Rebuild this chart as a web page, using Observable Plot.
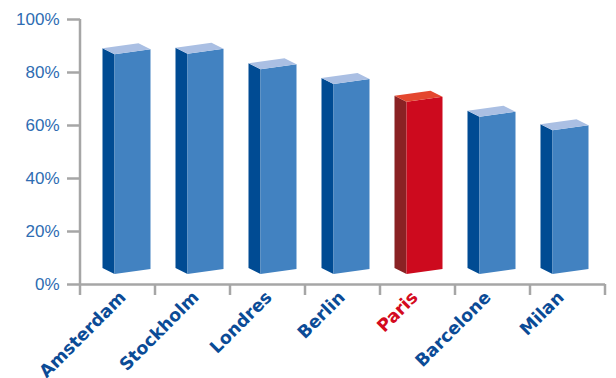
<!DOCTYPE html>
<html><head><meta charset="utf-8">
<script src="https://cdn.jsdelivr.net/npm/d3@7"></script>
<script src="https://cdn.jsdelivr.net/npm/@observablehq/plot@0.6"></script>
<style>body{margin:0;background:#fff}</style>
</head><body><div id="chart"></div>
<script>
const cities = ["Amsterdam", "Stockholm", "Londres", "Berlin", "Paris", "Barcelone", "Milan"];
const values = [88.6, 88.8, 82.9, 77.4, 70.7, 65.0, 59.9];
const highlight = "Paris";
const yTicks = [0, 20, 40, 60, 80, 100];

const data = cities.map((city, i) => ({city, value: values[i]}));

const palette = {
  normal: {front: "#4282c1", side: "#004b93", top: "#aabfe3", label: "#0b4b96"},
  highlight: {front: "#cd0a1e", side: "#8a2224", top: "#e4472f", label: "#d40a20"}
};
const axisGray = "#a6a6a6";
const tickBlue = "#2e6cb2";

function bars3d(index, scales, vals, dims) {
  const x = scales.x, y = scales.y;
  const g = d3.create("svg:g");
  const bw = x.bandwidth();
  const y0 = y(0);
  for (const d of data) {
    const cx = x(d.city) + bw / 2;
    const xl = cx - 24, xs = xl + 12, xr = xl + 48;
    const yt = y(d.value);
    const c = d.city === highlight ? palette.highlight : palette.normal;
    const poly = (pts, fill) => g.append("polygon")
      .attr("points", pts.map(p => p.join(",")).join(" "))
      .attr("fill", fill);
    poly([[xl, yt - 1], [xs, yt + 5], [xs, y0 - 10], [xl, y0 - 16]], c.side);
    poly([[xs, yt + 5], [xr, yt], [xr, y0 - 15], [xs, y0 - 10]], c.front);
    poly([[xl, yt - 1], [xs, yt + 5], [xr, yt], [xl + 36, yt - 6]], c.top);
  }
  return g.node();
}

function axisFrame(index, scales, vals, dims) {
  const {marginLeft, marginRight, width} = dims;
  const y = scales.y;
  const y0 = y(0);
  const g = d3.create("svg:g").attr("stroke", axisGray).attr("stroke-width", 2.5);
  g.append("line").attr("x1", marginLeft).attr("x2", marginLeft)
    .attr("y1", y(d3.max(yTicks))).attr("y2", y0 + 11);
  const n = cities.length, step = (width - marginLeft - marginRight) / n;
  for (let k = 1; k <= n; k++) {
    const xx = marginLeft + k * step;
    g.append("line").attr("x1", xx).attr("x2", xx).attr("y1", y0).attr("y2", y0 + 11);
  }
  return g.node();
}

const chart = Plot.plot({
  width: 616,
  height: 378,
  marginLeft: 80,
  marginRight: 11,
  marginTop: 19,
  marginBottom: 94,
  x: {type: "band", domain: cities, range: [89.33, 602.67], padding: 0, axis: null},
  y: {domain: [0, 100]},
  marks: [
    Plot.axisY(yTicks, {
      tickSize: 13, tickPadding: 8, stroke: axisGray, strokeWidth: 2.5,
      fill: tickBlue, fontSize: 17, fontFamily: "Liberation Sans",
      tickFormat: d => d + "%", label: null
    }),
    Plot.ruleY([0], {stroke: axisGray, strokeWidth: 2.5}),
    axisFrame,
    bars3d,
    Plot.text(data, {
      x: "city", y: () => 0, text: "city", rotate: -45, textAnchor: "end",
      dx: -4, dy: 10,
      fill: d => d.city === highlight ? palette.highlight.label : palette.normal.label,
      fontWeight: "bold", fontSize: 17.5, fontFamily: "DejaVu Sans"
    })
  ]
});
document.getElementById("chart").appendChild(chart);
</script>
</body></html>
